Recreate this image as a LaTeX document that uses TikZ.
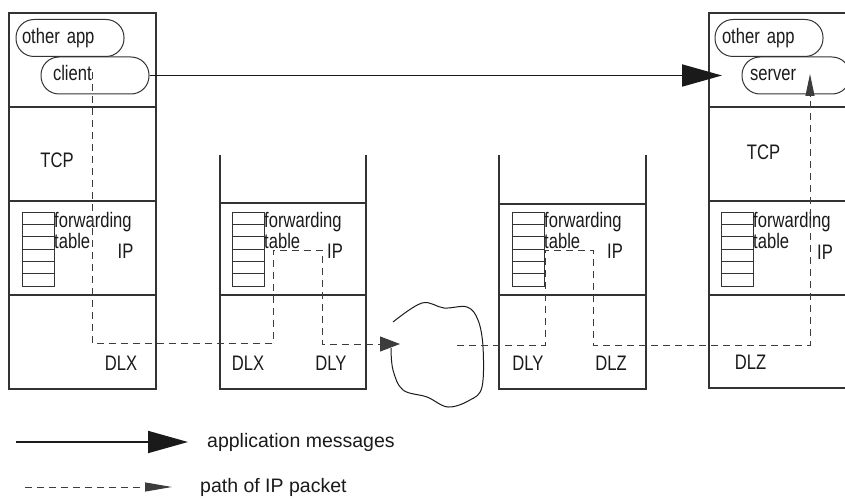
\documentclass[tikz,border=0pt]{standalone}
\usepackage{fontspec}
\setmainfont{Liberation Sans}
\newfontfamily\narrowsf[FakeStretch=0.79]{Liberation Sans}
\usepackage{xcolor}
\definecolor{stackgray}{HTML}{333333}
\definecolor{inkblack}{HTML}{1A1A1A}
\usepackage{tikz}
\usetikzlibrary{arrows.meta,calc,positioning}
\tikzset{
  >={Triangle[length=22pt,width=9pt]},
  lbl/.style={font=\narrowsf\fontsize{21}{21}\selectfont, text=inkblack, inner sep=0pt},
  legendlbl/.style={font=\fontsize{19.5}{22}\selectfont, text=inkblack, inner sep=0pt, anchor=west},
  stack/.style={stackgray, line width=1.2pt},
  proc/.style 2 args={lbl, draw=stackgray, line width=1pt, rounded corners=18pt,
    minimum height=37pt, text height=15pt, text depth=4pt,
    inner xsep=#1, text width=#2, align=left},
  appmsg/.style={inkblack, line width=1.8pt, -{Triangle[length=40pt,width=22pt]}},
  ippath/.style={inkblack!85, line width=1pt, dash pattern=on 7pt off 5pt, ->},
}

\begin{document}
\begin{tikzpicture}[x=1pt, y=-1pt,
  tablerow/.style={stackgray, line width=0.9pt},
  cloudline/.style={inkblack, line width=1pt},
]
\clip (0,0) rectangle (845,500);
% a forwarding table: #1 = name of its label, #2 = left x
\newcommand{\fwdtable}[2]{%
  \foreach \r in {0,...,5}
    \draw[tablerow] (#2,212+12.33*\r) rectangle ++(32,12.33);
  \node[lbl, anchor=north west, align=left] (#1) at (#2+32,212) {forwarding\\table};}

% ------------------------------------------------------------------ host (client)
\draw[stack] (9,13) rectangle (156,389);
\foreach \y in {107,201,295} \draw[stack] (9,\y) -- (156,\y);
\node[proc={6pt}{96pt}] (otherA) at (70,38) {other app};
\node[proc={12pt}{84pt}] (client) at (95,75.5) {client};
\node[lbl] (tcpA) at (57,160) {TCP};
\fwdtable{fwdA}{22}
\node[lbl] (ipA) at (125.5,251.5) {IP};
\node[lbl] (dlxA) at (121,363.5) {DLX};

% ------------------------------------------------------------------ router X/Y
\draw[stack] (220,155) -- (220,389) -- (366,389) -- (366,155);
\foreach \y in {203,295} \draw[stack] (220,\y) -- (366,\y);
\fwdtable{fwdB}{232}
\node[lbl] (ipB) at (335,251.5) {IP};
\node[lbl] (dlxB) at (248,363.5) {DLX};
\node[lbl] (dlyB) at (331,363.5) {DLY};

% ------------------------------------------------------------------ router Y/Z
\draw[stack] (499,155) -- (499,389) -- (646,389) -- (646,155);
\foreach \y in {204,295} \draw[stack] (499,\y) -- (646,\y);
\fwdtable{fwdC}{512}
\node[lbl] (ipC) at (615,251.5) {IP};
\node[lbl] (dlyC) at (528,363.5) {DLY};
\node[lbl] (dlzC) at (611,363.5) {DLZ};

% ------------------------------------------------------------------ host (server)
\draw[stack] (846,13) -- (709,13) -- (709,388) -- (846,388);
\foreach \y in {107,201,295} \draw[stack] (709,\y) -- (846,\y);
\node[proc={7pt}{94pt}] (otherD) at (769,38) {other app};
\node[proc={8pt}{92pt}] (server) at (796,75.5) {server};
\node[lbl] (tcpD) at (763.5,152.5) {TCP};
\fwdtable{fwdD}{721}
\node[lbl] (ipD) at (825,252.5) {IP};
\node[lbl] (dlzD) at (750.5,362.5) {DLZ};

% the network in between
\draw[cloudline] plot[smooth, tension=0.6] coordinates {(393,322) (422,303) (444,308)
  (467,307) (478,320) (483,347) (482,387) (470,400) (448,407) (427,397) (403,390)
  (393,370) (391,348)};

% application message and IP packet
\coordinate (msgtip) at (722,75.5);
\draw[appmsg] (client) -- (msgtip);
\coordinate (upA) at (92,72);
\coordinate (turnB1) at (273,343);
\coordinate (turnB2) at (322,250);
\coordinate (cloudin) at (400,344);
\draw[ippath, -{Triangle[length=20pt,width=15pt]}] (upA) |- (turnB1) |- (turnB2) |- (cloudin);
\coordinate (cloudout) at (457,345);
\coordinate (turnC1) at (545,250);
\coordinate (turnC2) at (593,345);
\coordinate (upD) at (810,74);
\draw[ippath] (cloudout) -| (turnC1) -| (turnC2) -| (upD);

% key
\coordinate (keyA) at (16,442);
\coordinate (keyAend) at (188,442);
\draw[appmsg] (keyA) -- (keyAend);
\node[legendlbl] (keyAtext) at (207,442) {application messages};
\coordinate (keyB) at (25,487);
\coordinate (keyBend) at (172,487);
\draw[ippath, -{Triangle[length=27pt,width=9pt]}] (keyB) -- (keyBend);
\node[legendlbl] (keyBtext) at (200,487) {path of IP packet};
\end{tikzpicture}
\end{document}
